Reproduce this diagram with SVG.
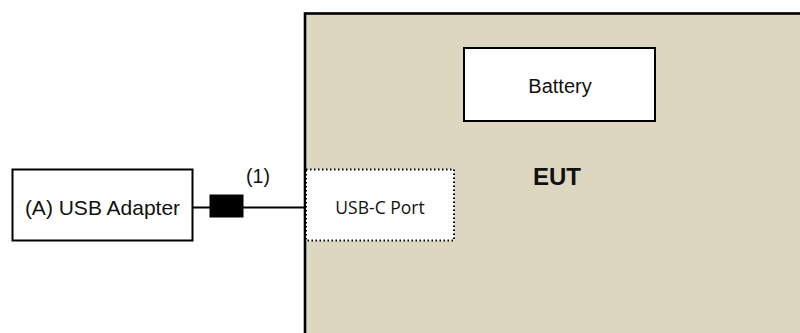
<svg xmlns="http://www.w3.org/2000/svg" width="800" height="333" viewBox="0 0 800 333">
<style>
.box{fill:#fff;stroke:#000;stroke-width:2}
.t{font-family:"Liberation Sans",Arial,sans-serif;fill:#111}
.c{font-family:"Open Sans",sans-serif;fill:#111}
</style>
<rect width="800" height="333" fill="#fff"/>
<g id="eut">
<rect x="305" y="13.5" width="500" height="330" fill="#DDD7C1" stroke="#000" stroke-width="2.6"/>
<text class="t" x="557" y="185" font-size="24" font-weight="bold" text-anchor="middle">EUT</text>
</g>
<g id="battery">
<rect class="box" x="464" y="48" width="191" height="73" stroke-width="2.5"/>
<text class="t" x="560" y="93" font-size="20" text-anchor="middle">Battery</text>
</g>
<g id="usbc">
<rect x="306" y="169.5" width="148" height="71" fill="#fff" stroke="#000" stroke-width="2" stroke-dasharray="1.5 2.5"/>
<text class="c" x="380" y="214" font-size="17.5" text-anchor="middle">USB-C Port</text>
</g>
<g id="adapter">
<rect class="box" x="12.5" y="169.5" width="180" height="71"/>
<text class="t" x="102.5" y="215" font-size="21" text-anchor="middle">(A) USB Adapter</text>
</g>
<g id="connectors">
<line x1="193" y1="207.5" x2="305" y2="207.5" stroke="#000" stroke-width="2"/>
<rect x="209.5" y="194.5" width="34" height="23" fill="#000"/>
<text class="t" x="258" y="183" font-size="19.5" text-anchor="middle">(1)</text>
</g>
</svg>
